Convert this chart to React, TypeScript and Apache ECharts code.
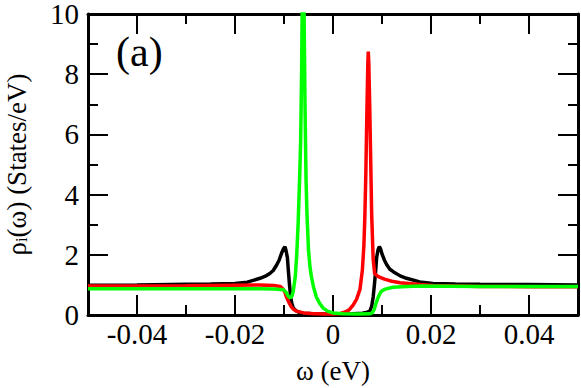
import React, { useEffect, useRef } from "react";
import * as echarts from "echarts";

// ---- data ----
const blackOmega = [
  -0.05, -0.04, -0.03, -0.025, -0.02, -0.0175, -0.0149, -0.0138, -0.0129, -0.0122,
  -0.0115, -0.011, -0.0105, -0.0101, -0.0098, -0.0096, -0.0093, -0.0091, -0.0089, -0.00865,
  -0.0084, -0.0081, -0.0076, -0.0071, -0.006, -0.004, 0, 0.004, 0.006, 0.007,
  0.00755, 0.0079, 0.0082, 0.00845, 0.0087, 0.0089, 0.0092, 0.00946, 0.0097, 0.01,
  0.0105, 0.011, 0.0116, 0.0123, 0.0137, 0.015, 0.0177, 0.0204, 0.025, 0.03,
  0.04, 0.05,
];
const blackRho = [
  0.99, 1.0, 1.02, 1.03, 1.05, 1.09, 1.22, 1.29, 1.38, 1.48,
  1.66, 1.82, 2.05, 2.2, 2.27, 2.15, 1.9, 1.45, 1.05, 0.6,
  0.38, 0.23, 0.15, 0.1, 0.06, 0.04, 0.03, 0.04, 0.06, 0.09,
  0.14, 0.3, 0.6, 1.0, 1.45, 1.9, 2.17, 2.27, 2.2, 2.03,
  1.82, 1.66, 1.52, 1.44, 1.3, 1.22, 1.1, 1.05, 1.03, 1.02,
  1.01, 1.0,
];

const redOmega = [
  -0.05, -0.04, -0.03, -0.02, -0.015, -0.012, -0.0108, -0.0102, -0.0098, -0.0095,
  -0.009, -0.0085, -0.008, -0.0075, -0.006, -0.0045, -0.002, 0, 0.0015, 0.0025,
  0.0033, 0.0041, 0.0048, 0.0055, 0.006, 0.0063, 0.0065, 0.0067, 0.0069, 0.0071,
  0.0072, 0.0073, 0.0075, 0.0077, 0.0079, 0.0082, 0.0085, 0.009, 0.0095, 0.0105,
  0.012, 0.0137, 0.0178, 0.0204, 0.03, 0.04, 0.05,
];
const redRho = [
  0.96, 0.96, 0.97, 0.99, 1.0, 0.98, 0.95, 0.86, 0.75, 0.6,
  0.42, 0.27, 0.18, 0.13, 0.07, 0.05, 0.03, 0.03, 0.05, 0.1,
  0.17, 0.33, 0.52, 0.85, 1.5, 2.3, 3.27, 4.7, 6.6, 8.3,
  8.75, 8.4, 6.9, 5.1, 3.3, 1.85, 1.38, 1.3, 1.26, 1.19,
  1.12, 1.07, 1.01, 0.98, 0.95, 0.94, 0.94,
];

const greenOmega = [
  -0.05, -0.03, -0.015, -0.012, -0.0101, -0.0096, -0.0091, -0.0087, -0.0084, -0.0081,
  -0.0077, -0.0074, -0.0071, -0.0068, -0.0066, -0.0064, -0.0063, -0.0061, -0.0059, -0.0057,
  -0.0055, -0.0053, -0.005, -0.0047, -0.0044, -0.004, -0.0034, -0.0027, -0.002, -0.001,
  0, 0.002, 0.005, 0.0075, 0.008, 0.0084, 0.0088, 0.0093, 0.0098, 0.0105,
  0.0122, 0.015, 0.0178, 0.03, 0.05,
];
const greenRho = [
  0.87, 0.87, 0.87, 0.86, 0.84, 0.76, 0.62, 0.57, 0.62, 0.8,
  1.27, 2.0, 3.1, 4.6, 5.8, 8.2, 10.0, 12.5, 10.0, 6.8,
  4.5, 3.3, 2.16, 1.6, 1.27, 0.95, 0.6, 0.38, 0.23, 0.12,
  0.07, 0.04, 0.03, 0.04, 0.07, 0.18, 0.4, 0.62, 0.78, 0.85,
  0.92, 0.95, 0.96, 0.95, 0.95,
];

const xMajorTicks = [-0.04, -0.02, 0, 0.02, 0.04];
const xMajorLabels = ["-0.04", "-0.02", "0", "0.02", "0.04"];
const xMinorTicks = [-0.03, -0.01, 0.01, 0.03];

const FONT =
  "Liberation Serif, Tinos, Nimbus Roman, Nimbus Roman No9 L, FreeSerif, Noto Serif, Times, DejaVu Serif, Liberation Sans";

const zip = (xs: number[], ys: number[]) => xs.map((x, i) => [x, ys[i]]);

export default function App() {
  const ref = useRef<HTMLDivElement>(null);
  useEffect(() => {
    if (!ref.current) return;
    const chart = echarts.init(ref.current, null, { renderer: "svg" });
    const axisLine = { show: true, onZero: false, lineStyle: { color: "#000", width: 3 } };
    const noLine = { show: false, onZero: false };
    const tickStyle = { color: "#000", width: 2 };
    const xBase = {
      type: "value" as const,
      min: -0.05,
      max: 0.05,
      splitLine: { show: false },
    };
    const xFormatter = (v: number) => {
      const i = xMajorTicks.findIndex((t) => Math.abs(t - v) < 1e-9);
      return i >= 0 ? xMajorLabels[i] : "";
    };
    chart.setOption({
      animation: false,
      backgroundColor: "#fff",
      textStyle: { fontFamily: FONT, color: "#000" },
      grid: { left: 88, right: 3, top: 14, bottom: 73, outerBoundsMode: "none" },
      graphic: [
        {
          type: "text",
          left: 116,
          top: 31,
          style: { text: "(a)", fontFamily: FONT, fontSize: 42, fill: "#000" },
        },
      ],
      xAxis: [
        {
          ...xBase,
          position: "bottom",
          axisLine,
          axisTick: { show: true, inside: true, length: 20, lineStyle: tickStyle, customValues: xMajorTicks },
          axisLabel: {
            show: true,
            customValues: xMajorTicks,
            formatter: xFormatter,
            fontFamily: FONT,
            fontSize: 29,
            color: "#000",
            margin: 4,
          },
          name: "ω (eV)",
          nameLocation: "middle",
          nameGap: 42,
          nameTextStyle: { fontFamily: FONT, fontSize: 27, color: "#000" },
        },
        {
          ...xBase,
          position: "bottom",
          axisLine: noLine,
          axisTick: { show: true, inside: true, length: 10, lineStyle: tickStyle, customValues: xMinorTicks },
          axisLabel: { show: false },
        },
        {
          ...xBase,
          position: "top",
          axisLine,
          axisTick: { show: true, inside: true, length: 20, lineStyle: tickStyle, customValues: xMajorTicks },
          axisLabel: { show: false },
        },
        {
          ...xBase,
          position: "top",
          axisLine: noLine,
          axisTick: { show: true, inside: true, length: 10, lineStyle: tickStyle, customValues: xMinorTicks },
          axisLabel: { show: false },
        },
      ],
      yAxis: [
        {
          type: "value",
          min: 0,
          max: 10,
          interval: 2,
          position: "left",
          axisLine,
          axisTick: { show: true, inside: true, length: 20, lineStyle: tickStyle },
          minorTick: { show: true, splitNumber: 2, length: 10, lineStyle: tickStyle },
          splitLine: { show: false },
          axisLabel: { fontFamily: FONT, fontSize: 29, lineHeight: 26, color: "#000", margin: 9 },
          name: "{a|ρ}{s|i}{a|(ω) (States/eV)}",
          nameLocation: "middle",
          nameGap: 58,
          nameTextStyle: {
            fontFamily: FONT,
            fontSize: 27,
            color: "#000",
            rich: {
              a: { fontFamily: FONT, fontSize: 27, lineHeight: 27, verticalAlign: "top", color: "#000" },
              s: {
                fontFamily: FONT,
                fontSize: 17,
                lineHeight: 17,
                verticalAlign: "bottom",
                padding: [14, 0, 0, 0],
                color: "#000",
              },
            },
          },
        },
        {
          type: "value",
          min: 0,
          max: 10,
          interval: 2,
          position: "right",
          axisLine,
          axisTick: { show: true, inside: true, length: 20, lineStyle: tickStyle },
          minorTick: { show: true, splitNumber: 2, length: 10, lineStyle: tickStyle },
          splitLine: { show: false },
          axisLabel: { show: false },
        },
      ],
      series: [
        {
          type: "line",
          data: zip(blackOmega, blackRho),
          showSymbol: false,
          clip: true,
          color: "#000000",
          lineStyle: { width: 3.5, color: "#000000" },
        },
        {
          type: "line",
          data: zip(redOmega, redRho),
          showSymbol: false,
          clip: true,
          color: "#ff0000",
          lineStyle: { width: 3.5, color: "#ff0000" },
        },
        {
          type: "line",
          data: zip(greenOmega, greenRho),
          showSymbol: false,
          clip: true,
          color: "#00ff00",
          lineStyle: { width: 3.5, color: "#00ff00" },
        },
      ],
    });
    return () => chart.dispose();
  }, []);
  return (
    <div
      ref={ref}
      style={{ position: "fixed", left: 0, top: 0, width: 581, height: 388, background: "#fff" }}
    />
  );
}
